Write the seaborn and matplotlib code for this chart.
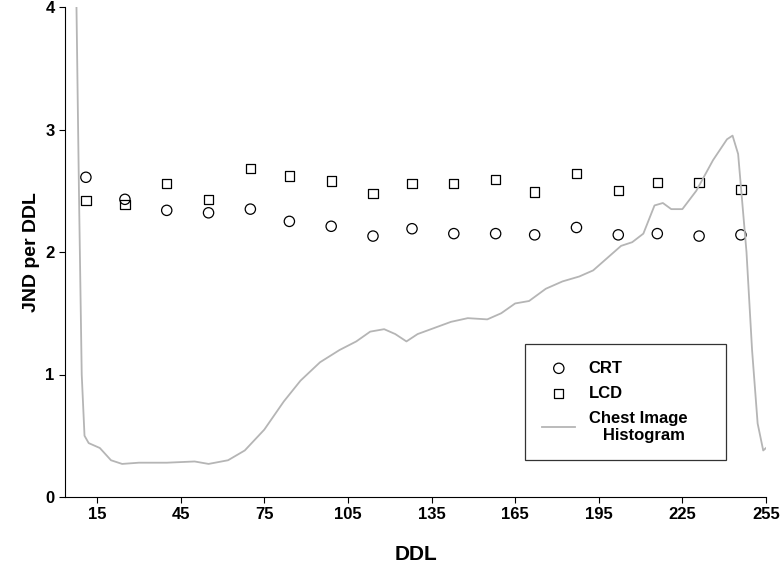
import matplotlib
matplotlib.use("Agg")
import matplotlib.pyplot as plt
import seaborn as sns
import pandas as pd

ddl = [11, 25, 40, 55, 70, 84, 99, 114, 128, 143, 158, 172, 187, 202, 216, 231, 246]
crt = [2.61, 2.43, 2.34, 2.32, 2.35, 2.25, 2.21, 2.13, 2.19, 2.15, 2.15, 2.14, 2.20, 2.14, 2.15, 2.13, 2.14]
lcd = [2.42, 2.39, 2.56, 2.43, 2.68, 2.62, 2.58, 2.48, 2.56, 2.56, 2.59, 2.49, 2.64, 2.50, 2.57, 2.57, 2.51]

hist_x = [7.5, 8.5, 9.5, 10.5, 12, 16, 20, 24, 30, 40, 50, 55, 62, 68, 75, 82, 88, 95, 102, 108, 113, 118,
          122, 126, 130, 136, 142, 148, 155, 160, 165, 170, 176, 182, 188, 193, 198, 203, 207, 211, 215,
          218, 221, 225, 230, 236, 241, 243, 245, 248, 250, 252, 254, 255]
hist_y = [4.2, 2.5, 1.0, 0.5, 0.44, 0.40, 0.30, 0.27, 0.28, 0.28, 0.29, 0.27, 0.30, 0.38, 0.55, 0.78, 0.95,
          1.10, 1.20, 1.27, 1.35, 1.37, 1.33, 1.27, 1.33, 1.38, 1.43, 1.46, 1.45, 1.50, 1.58, 1.60, 1.70,
          1.76, 1.80, 1.85, 1.95, 2.05, 2.08, 2.15, 2.38, 2.40, 2.35, 2.35, 2.50, 2.75, 2.92, 2.95, 2.80,
          2.00, 1.20, 0.60, 0.38, 0.40]
xticks = [15, 45, 75, 105, 135, 165, 195, 225, 255]

plt.rcParams["font.family"] = "Liberation Sans"
plt.rcParams["font.weight"] = "bold"
fig = plt.figure(figsize=(7.81, 5.76), dpi=100)
ax = fig.add_axes([65/781, 79/576, 701/781, 490/576])

sns.scatterplot(x=ddl, y=crt, ax=ax, marker="o", s=55, facecolor="none", edgecolor="black", linewidth=0.9, label="CRT")
sns.scatterplot(x=ddl, y=lcd, ax=ax, marker="s", s=45, facecolor="none", edgecolor="black", linewidth=0.9, label="LCD")
sns.lineplot(x=hist_x, y=hist_y, ax=ax, color="#b5b5b5", linewidth=1.3, label="Chest Image\n   Histogram", sort=False)

ax.set_xlim(3.5, 255)
ax.set_ylim(0, 4)
ax.set_xticks(xticks)
ax.set_yticks([0, 1, 2, 3, 4])
ax.tick_params(labelsize=12, direction="out", length=4)
for lab in ax.get_xticklabels() + ax.get_yticklabels():
    lab.set_fontweight("bold")
ax.set_xlabel("DDL", fontsize=15, fontweight="bold", labelpad=16)
ax.set_ylabel("JND per DDL", fontsize=14, fontweight="bold")
for s in ["top", "right"]:
    ax.spines[s].set_visible(False)

leg = ax.legend(loc="lower left", bbox_to_anchor=(0.645, 0.059, 0.31, 0.26), mode="expand",
                fontsize=12, frameon=True, fancybox=False, edgecolor="black", borderpad=1.0,
                labelspacing=0.6)
leg.get_frame().set_linewidth(0.9)
for t in leg.get_texts():
    t.set_fontweight("bold")

fig.savefig("out.png", dpi=100)
